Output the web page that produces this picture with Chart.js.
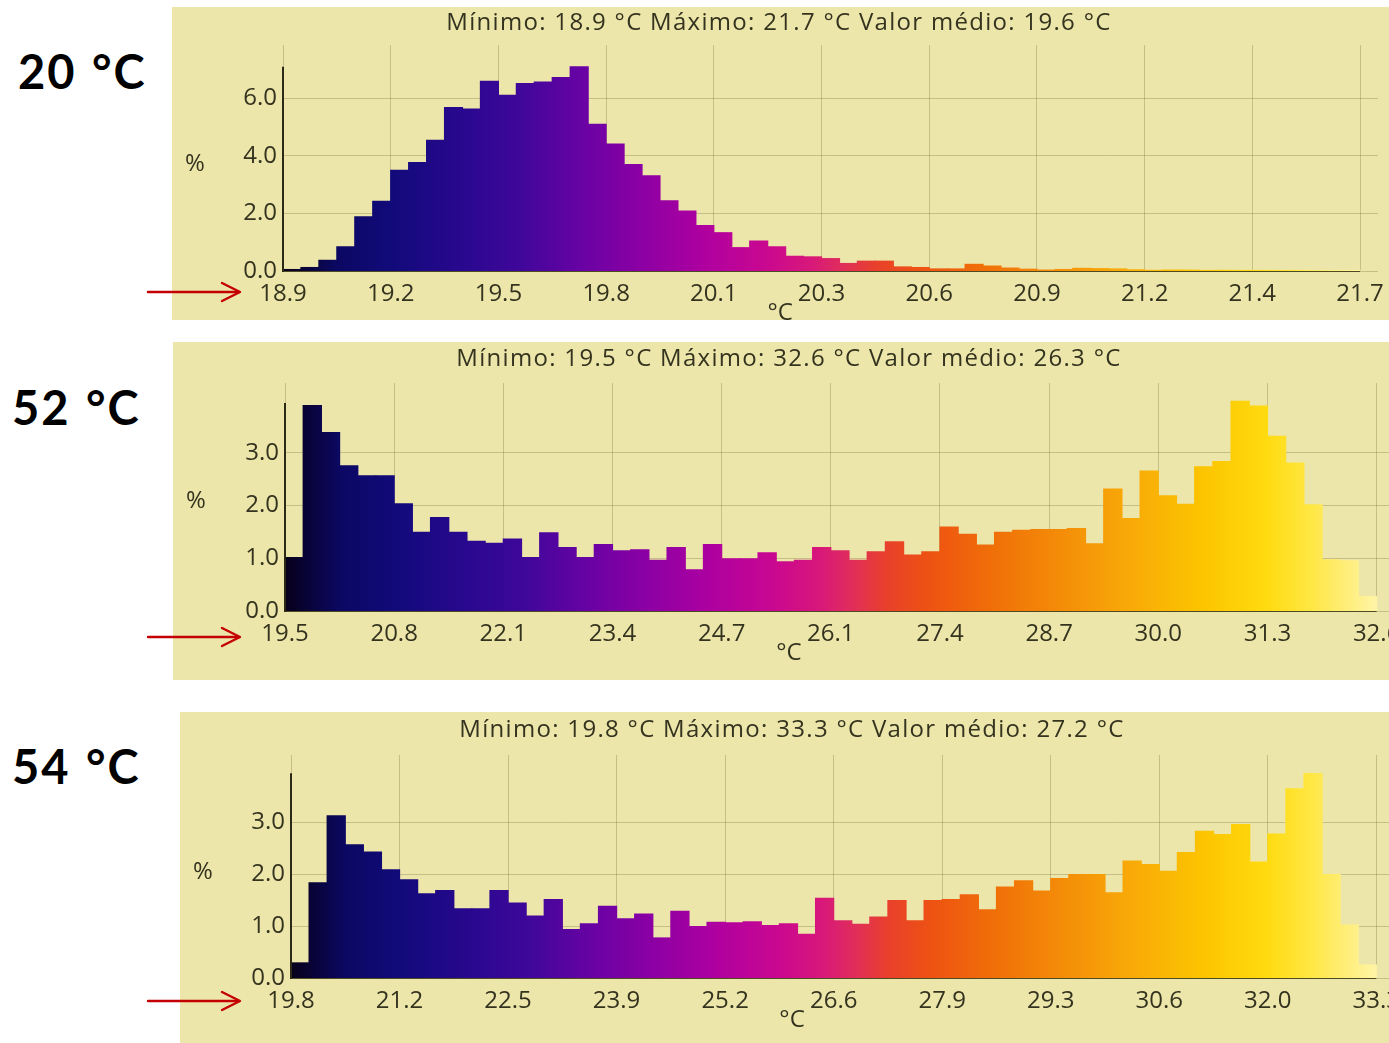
<!DOCTYPE html>
<html lang="pt">
<head>
<meta charset="utf-8">
<title>Histogramas de temperatura</title>
<script src="https://cdn.jsdelivr.net/npm/chart.js@4.4.1/dist/chart.umd.min.js"></script>
<style>
  html, body { margin: 0; padding: 0; background: #ffffff; }
  body { position: relative; width: 1389px; height: 1043px; overflow: hidden; }
  .panel { position: absolute; background: #ede6aa; }
  .panel canvas { display: block; }
  .tag {
    position: absolute; margin: 0; color: #000;
    font-family: Lato, "Noto Sans", sans-serif; font-weight: 700;
    font-size: 47px; line-height: 46px; white-space: nowrap;
    letter-spacing: 2px; word-spacing: 2px;
  }
  svg.marks { position: absolute; left: 0; top: 0; pointer-events: none; }
</style>
</head>
<body>

<div class="tag" style="left:18px; top:48px;">20 °C</div>
<div class="tag" style="left:12px; top:384px;">52 °C</div>
<div class="tag" style="left:12px; top:743px;">54 °C</div>

<div class="panel" style="left:172px; top:7px; width:1217px; height:313px;"><canvas id="h20" width="1217" height="313"></canvas></div>
<div class="panel" style="left:173px; top:342px; width:1216px; height:338px;"><canvas id="h52" width="1216" height="338"></canvas></div>
<div class="panel" style="left:180px; top:712px; width:1209px; height:331px;"><canvas id="h54" width="1209" height="331"></canvas></div>

<svg class="marks" width="1389" height="1043">
  <g stroke="#c40000" stroke-width="2.4" fill="none" stroke-linecap="round" stroke-linejoin="round">
    <line x1="148" y1="292" x2="239" y2="292"/><polyline points="222,283 240,292 222,301"/>
    <line x1="148" y1="637" x2="239" y2="637"/><polyline points="222,628 240,637 222,646"/>
    <line x1="148" y1="1001" x2="239" y2="1001"/><polyline points="222,992 240,1001 222,1010"/>
  </g>
</svg>

<script>
// ---- values ----
const binCount = 60;            // histogram bins between minimum and maximum
const binsPerTick = 6;

const minTemps  = [18.9, 19.5, 19.8];
const maxTemps  = [21.7, 32.6, 33.3];
const meanTemps = [19.6, 26.3, 27.2];

const xTicks20 = ["18.9","19.2","19.5","19.8","20.1","20.3","20.6","20.9","21.2","21.4","21.7"];
const xTicks52 = ["19.5","20.8","22.1","23.4","24.7","26.1","27.4","28.7","30.0","31.3","32.6"];
const xTicks54 = ["19.8","21.2","22.5","23.9","25.2","26.6","27.9","29.3","30.6","32.0","33.3"];

const yTicks20 = [0, 2, 4, 6];
const yTicks52 = [0, 1, 2, 3];
const yTicks54 = [0, 1, 2, 3];

// share of pixels (%) in each bin
const hist20 = [
  0.05, 0.12, 0.37, 0.84, 1.88, 2.42,
  3.50, 3.77, 4.54, 5.68, 5.63, 6.60,
  6.11, 6.52, 6.57, 6.73, 7.10, 5.10,
  4.41, 3.70, 3.31, 2.44, 2.08, 1.58,
  1.33, 0.81, 1.04, 0.84, 0.51, 0.49,
  0.43, 0.26, 0.34, 0.34, 0.14, 0.12,
  0.07, 0.07, 0.23, 0.17, 0.10, 0.06,
  0.03, 0.05, 0.09, 0.08, 0.07, 0.04,
  0.02, 0.03, 0.03, 0.01, 0.02, 0.01,
  0.01, 0.01, 0.01, 0.01, 0.01, 0.01
];
const hist52 = [
  1.01, 3.89, 3.38, 2.75, 2.56, 2.56,
  2.03, 1.49, 1.77, 1.49, 1.32, 1.28,
  1.36, 1.01, 1.48, 1.20, 1.01, 1.26,
  1.14, 1.16, 0.96, 1.20, 0.78, 1.26,
  0.99, 0.99, 1.10, 0.93, 0.96, 1.20,
  1.14, 0.96, 1.12, 1.31, 1.06, 1.12,
  1.59, 1.45, 1.25, 1.49, 1.53, 1.54,
  1.54, 1.56, 1.27, 2.31, 1.75, 2.65,
  2.18, 2.02, 2.73, 2.83, 3.97, 3.88,
  3.31, 2.80, 2.01, 0.97, 0.95, 0.27
];
const hist54 = [
  0.29, 1.83, 3.12, 2.56, 2.42, 2.08,
  1.89, 1.62, 1.68, 1.33, 1.33, 1.68,
  1.44, 1.19, 1.51, 0.93, 1.04, 1.38,
  1.14, 1.23, 0.77, 1.28, 0.99, 1.07,
  1.06, 1.08, 1.01, 1.04, 0.84, 1.53,
  1.10, 1.03, 1.17, 1.49, 1.10, 1.49,
  1.51, 1.60, 1.31, 1.75, 1.87, 1.67,
  1.91, 1.99, 1.99, 1.64, 2.25, 2.18,
  2.05, 2.41, 2.82, 2.76, 2.95, 2.23,
  2.77, 3.64, 3.93, 1.99, 1.02, 0.25
];

// ---- style ----
const TEXT = '#34331f';
const GRID = 'rgba(112,106,60,0.32)';
const AXIS = '#2c2a16';
const BASE = '#4d4a24';
const FONT = '"Open Sans", "Noto Sans", sans-serif';
const FONT_SIZE = 24;

// thermal "iron" palette, left = minimum, right = maximum
const IRON = [
  [0.00, '#07001a'], [0.05, '#0b0862'], [0.10, '#110a7a'], [0.17, '#2a0890'],
  [0.22, '#3f079a'], [0.28, '#6a02a4'], [0.33, '#8a00a4'], [0.39, '#ae00a0'],
  [0.45, '#ca0890'], [0.49, '#d8187a'], [0.52, '#e02e5a'], [0.55, '#e8402c'],
  [0.59, '#ee5212'], [0.65, '#f07008'], [0.71, '#f48c08'], [0.77, '#f8a808'],
  [0.84, '#fcc400'], [0.90, '#ffdb10'], [0.94, '#ffe744'], [1.00, '#fff4a6']
];

function ironGradient(chart) {
  const { ctx, chartArea, scales } = chart;
  if (!chartArea) return IRON[0][1];
  const x0 = scales.x.getPixelForValue(0);
  const x1 = scales.x.getPixelForValue(binCount);
  const g = ctx.createLinearGradient(x0, 0, x1, 0);
  IRON.forEach(([o, c]) => g.addColorStop(o, c));
  return g;
}

// axis lines, caption and unit labels drawn around the bars
const decor = {
  id: 'decor',
  beforeDatasetsDraw(chart) {
    const { ctx, scales: { x, y } } = chart;
    ctx.save();
    ctx.strokeStyle = BASE;
    ctx.lineWidth = 2;
    ctx.beginPath();
    ctx.moveTo(x.getPixelForValue(0), y.getPixelForValue(0));
    ctx.lineTo(x.getPixelForValue(binCount), y.getPixelForValue(0));
    ctx.stroke();
    ctx.restore();
  },
  afterDatasetsDraw(chart, args, o) {
    const { ctx, scales: { x, y } } = chart;
    const ax = x.getPixelForValue(0);
    ctx.save();
    ctx.strokeStyle = AXIS;
    ctx.lineWidth = 2;
    ctx.beginPath();
    ctx.moveTo(ax, y.getPixelForValue(0) + 1);
    ctx.lineTo(ax, y.getPixelForValue(o.axisTop));
    ctx.stroke();

    ctx.fillStyle = TEXT;
    ctx.textAlign = 'center';
    ctx.textBaseline = 'middle';
    ctx.font = FONT_SIZE + 'px ' + FONT;
    ctx.fillText('%', o.unitX, o.unitY);
    ctx.fillText('°C', x.getPixelForValue(o.xTitleAt), y.getPixelForValue(0) + o.xTitleDrop);
    if ('letterSpacing' in ctx) ctx.letterSpacing = '1.3px';
    ctx.fillText(o.title, o.titleX, o.titleY);
    ctx.restore();
  }
};

function caption(i) {
  return 'Mínimo: ' + minTemps[i].toFixed(1) + ' °C Máximo: ' + maxTemps[i].toFixed(1) +
         ' °C Valor médio: ' + meanTemps[i].toFixed(1) + ' °C';
}

// canvas geometry of each panel (plot box in canvas pixels)
const panels = [
  { id: 'h20', hist: hist20, xTicks: xTicks20, yTicks: yTicks20, w: 1217, h: 313,
    plot: { left: 111, right: 1206, top: 38, bottom: 264 }, xMax: 61.0, yMax: 7.86, axisTop: 7.1,
    titleX: 607, titleY: 16, unitX: 23, unitY: 157 },
  { id: 'h52', hist: hist52, xTicks: xTicks52, yTicks: yTicks52, w: 1216, h: 338,
    plot: { left: 112, right: 1216, top: 41, bottom: 269 }, xMax: 60.68, yMax: 4.32, axisTop: 3.94,
    titleX: 616, titleY: 17, unitX: 23, unitY: 159 },
  { id: 'h54', hist: hist54, xTicks: xTicks54, yTicks: yTicks54, w: 1209, h: 331,
    plot: { left: 111, right: 1209, top: 43, bottom: 266 }, xMax: 60.7, yMax: 4.29, axisTop: 3.94,
    titleX: 612, titleY: 18, unitX: 23, unitY: 160 }
];

panels.forEach((p, i) => {
  new Chart(document.getElementById(p.id), {
    type: 'bar',
    data: {
      datasets: [{
        data: p.hist.map((v, k) => ({ x: k + 0.5, y: v })),
        backgroundColor: ctx => ironGradient(ctx.chart),
        borderWidth: 0,
        barPercentage: 1,
        categoryPercentage: 1,
        inflateAmount: 0.6
      }]
    },
    options: {
      responsive: false,
      animation: false,
      devicePixelRatio: 1,
      layout: { padding: { top: p.plot.top, right: p.w - p.plot.right, left: 0, bottom: 0 } },
      plugins: {
        legend: { display: false },
        tooltip: { enabled: false },
        decor: {
          title: caption(i), titleX: p.titleX, titleY: p.titleY,
          unitX: p.unitX, unitY: p.unitY, axisTop: p.axisTop,
          xTitleAt: 27.7, xTitleDrop: 42
        }
      },
      scales: {
        x: {
          type: 'linear', min: 0, max: p.xMax, offset: false,
          grid: { offset: false, color: GRID, lineWidth: 1, drawTicks: false },
          border: { display: false },
          afterBuildTicks: s => { s.ticks = p.xTicks.map((_, k) => ({ value: k * binsPerTick })); },
          ticks: {
            autoSkip: false, maxRotation: 0, padding: 9, color: TEXT,
            font: { family: FONT, size: FONT_SIZE },
            callback: v => p.xTicks[Math.round(v / binsPerTick)]
          },
          afterFit: s => { s.height = p.h - p.plot.bottom; s.paddingLeft = 0; s.paddingRight = 0; }
        },
        y: {
          min: 0, max: p.yMax,
          grid: { color: GRID, lineWidth: 1, drawTicks: false },
          border: { display: false },
          afterBuildTicks: s => { s.ticks = p.yTicks.map(v => ({ value: v })); },
          ticks: {
            padding: 6, color: TEXT, font: { family: FONT, size: FONT_SIZE },
            callback: v => Number(v).toFixed(1)
          },
          afterFit: s => { s.width = p.plot.left; s.paddingTop = 0; s.paddingBottom = 0; }
        }
      }
    },
    plugins: [decor]
  });
});
</script>
</body>
</html>
